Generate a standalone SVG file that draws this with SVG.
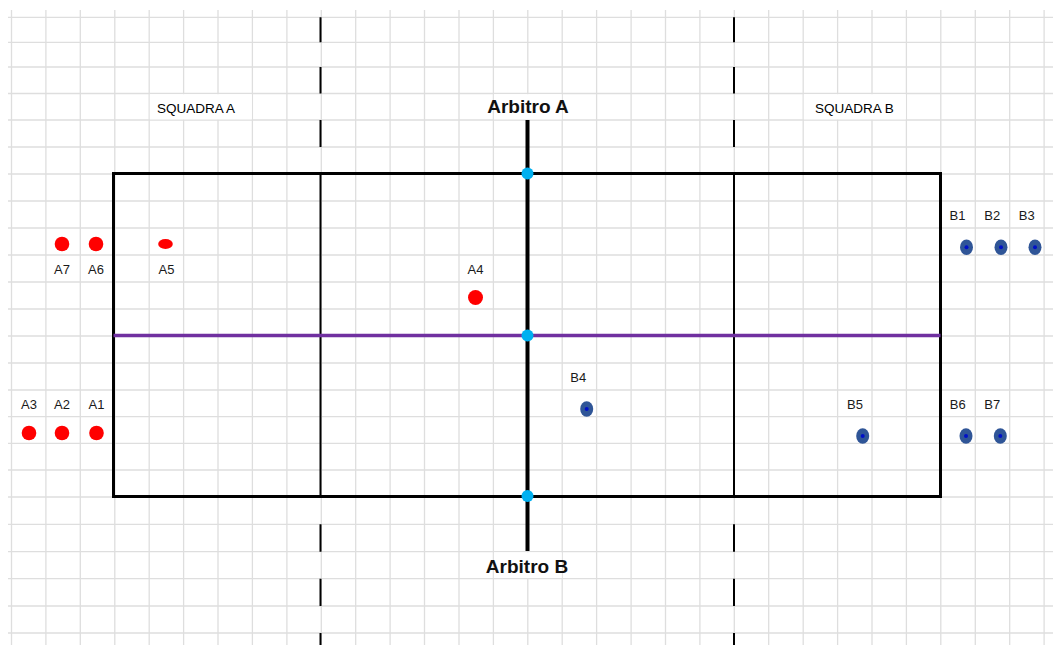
<svg xmlns="http://www.w3.org/2000/svg" width="1053" height="645" viewBox="0 0 1053 645">
<style>
.grid{stroke:#DEDEDE;stroke-width:1.3;fill:none}
.lbl{font-family:"Liberation Sans",Arial,sans-serif;font-size:13px;fill:#1a1a1a;text-anchor:middle}
.team{font-family:"Liberation Sans",Arial,sans-serif;font-size:13.5px;fill:#000}
.ref{font-family:"Liberation Sans",Arial,sans-serif;font-size:19px;font-weight:bold;fill:#111;text-anchor:middle}
.red{fill:#FF0000}
.bout{fill:#2F5597}
.bin{fill:#0010C8}
.cyan{fill:#00B0F0}
.box{fill:#FFFFFF}
</style>
<rect width="1053" height="645" fill="#FFFFFF"/>
<g id="grid">
<path class="grid" d="M11.5 10V645M45.9 10V645M80.3 10V645M114.8 10V645M149.2 10V645M183.6 10V645M218 10V645M252.4 10V645M286.9 10V645M321.3 10V645M355.7 10V645M390.1 10V645M424.5 10V645M459 10V645M493.4 10V645M527.8 10V645M562.2 10V645M596.6 10V645M631.1 10V645M665.5 10V645M699.9 10V645M734.3 10V645M768.7 10V645M803.2 10V645M837.6 10V645M872 10V645M906.4 10V645M940.8 10V645M975.3 10V645M1009.7 10V645M1044.1 10V645"/>
<path class="grid" d="M8 17.3H1053M8 42.3H1053M8 67H1053M8 93.5H1053M8 120H1053M8 147H1053M8 174H1053M8 201H1053M8 228H1053M8 255H1053M8 282H1053M8 309H1053M8 336H1053M8 363H1053M8 390H1053M8 416.7H1053M8 443.3H1053M8 470H1053M8 497H1053M8 524.3H1053M8 551.7H1053M8 578.7H1053M8 606H1053M8 633H1053"/>
</g>
<g id="field">
<rect x="113.5" y="173.5" width="827" height="323" fill="none" stroke="#000" stroke-width="3"/>
<line x1="320.5" y1="173.5" x2="320.5" y2="496.5" stroke="#000" stroke-width="2"/>
<line x1="734" y1="173.5" x2="734" y2="496.5" stroke="#000" stroke-width="2"/>
<path d="M320.5 17.3V42.3M320.5 67V93.5M320.5 120V147M320.5 524.3V551.7M320.5 578.7V606M320.5 633V645" stroke="#000" stroke-width="2"/>
<path d="M734 17.3V42.3M734 67V93.5M734 120V147M734 524.3V551.7M734 578.7V606M734 633V645" stroke="#000" stroke-width="2"/>
<line x1="113.5" y1="335.5" x2="940.5" y2="335.5" stroke="#7030A0" stroke-width="3.5"/>
<line x1="527.5" y1="120" x2="527.5" y2="551" stroke="#000" stroke-width="4"/>
</g>
<g id="squadra-a">
<rect class="box" x="149.8" y="94.2" width="102" height="25.2"/>
<text class="team" x="157" y="112.5">SQUADRA A</text>
</g>
<g id="squadra-b">
<rect class="box" x="803.8" y="94.2" width="102" height="25.2"/>
<text class="team" x="815" y="112.5">SQUADRA B</text>
</g>
<g id="arbitro-a">
<rect class="box" x="493.9" y="94.2" width="67.8" height="25.2"/>
<text class="ref" x="528" y="113">Arbitro A</text>
<circle class="cyan" cx="527.5" cy="173.5" r="6"/>
</g>
<g id="centro">
<circle class="cyan" cx="527.5" cy="335.5" r="6"/>
</g>
<g id="arbitro-b">
<rect class="box" x="493.9" y="552.4" width="67.8" height="25.6"/>
<text class="ref" x="527" y="572.5">Arbitro B</text>
<circle class="cyan" cx="527.5" cy="496" r="6"/>
</g>
<g id="A1"><circle class="red" cx="96.5" cy="433" r="7.3"/><text class="lbl" x="96.5" y="409">A1</text></g>
<g id="A2"><circle class="red" cx="62" cy="433" r="7.3"/><text class="lbl" x="62" y="409">A2</text></g>
<g id="A3"><circle class="red" cx="29" cy="433" r="7.3"/><text class="lbl" x="29" y="409">A3</text></g>
<g id="A4"><circle class="red" cx="475.5" cy="297.5" r="7.5"/><text class="lbl" x="475.5" y="274">A4</text></g>
<g id="A5"><ellipse class="red" cx="165.5" cy="244" rx="7.3" ry="5"/><text class="lbl" x="166.5" y="274">A5</text></g>
<g id="A6"><circle class="red" cx="96" cy="244" r="7.3"/><text class="lbl" x="96" y="274">A6</text></g>
<g id="A7"><circle class="red" cx="62" cy="244" r="7.3"/><text class="lbl" x="62" y="274">A7</text></g>
<g id="B1"><ellipse class="bout" cx="966.5" cy="247.3" rx="6.5" ry="7.7"/><circle class="bin" cx="966.5" cy="247.3" r="2"/><text class="lbl" x="957.5" y="220">B1</text></g>
<g id="B2"><ellipse class="bout" cx="1001" cy="247.3" rx="6.5" ry="7.7"/><circle class="bin" cx="1001" cy="247.3" r="2"/><text class="lbl" x="992.3" y="220">B2</text></g>
<g id="B3"><ellipse class="bout" cx="1035" cy="247.3" rx="6.5" ry="7.7"/><circle class="bin" cx="1035" cy="247.3" r="2"/><text class="lbl" x="1026.7" y="220">B3</text></g>
<g id="B4"><ellipse class="bout" cx="586.7" cy="409" rx="6.5" ry="7.7"/><circle class="bin" cx="586.7" cy="409" r="2"/><text class="lbl" x="578.3" y="382">B4</text></g>
<g id="B5"><ellipse class="bout" cx="862.7" cy="436" rx="6.5" ry="7.7"/><circle class="bin" cx="862.7" cy="436" r="2"/><text class="lbl" x="855" y="409">B5</text></g>
<g id="B6"><ellipse class="bout" cx="966" cy="436" rx="6.5" ry="7.7"/><circle class="bin" cx="966" cy="436" r="2"/><text class="lbl" x="957.7" y="409">B6</text></g>
<g id="B7"><ellipse class="bout" cx="1000.3" cy="436" rx="6.5" ry="7.7"/><circle class="bin" cx="1000.3" cy="436" r="2"/><text class="lbl" x="992.3" y="409">B7</text></g>
</svg>
